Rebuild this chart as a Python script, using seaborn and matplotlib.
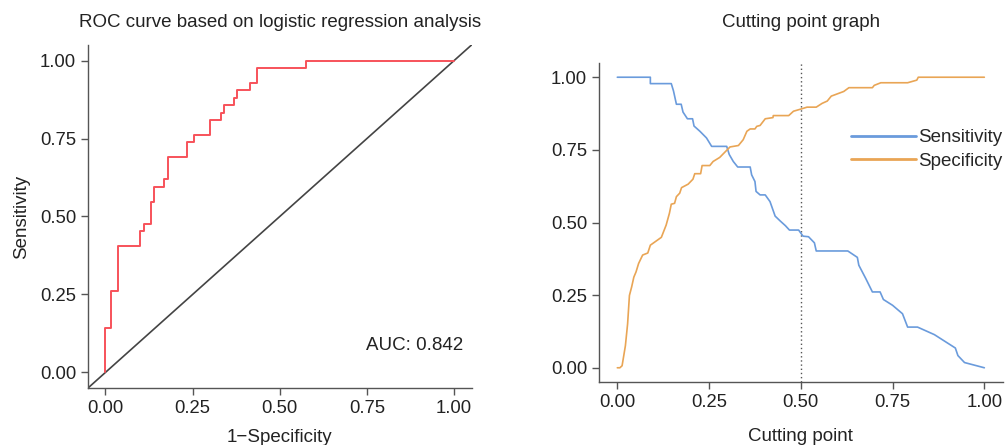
import numpy as np
import pandas as pd
import seaborn as sns
import matplotlib.pyplot as plt

sns.set_style("ticks")
plt.rcParams["font.family"] = ["Liberation Sans", "DejaVu Sans"]
plt.rcParams["font.size"] = 13.5
plt.rcParams["axes.titlesize"] = 13.5
plt.rcParams["axes.labelsize"] = 13.5
plt.rcParams["xtick.labelsize"] = 13.3
plt.rcParams["ytick.labelsize"] = 13.3
plt.rcParams["legend.fontsize"] = 13.5

# ============================================
# DATA
# ============================================
# ROC curve vertices (step curve)
fpr = [0, 0, 0.017, 0.036, 0.100, 0.111, 0.130, 0.140, 0.169, 0.178, 0.235,
       0.255, 0.300, 0.330, 0.339, 0.368, 0.376, 0.415, 0.434, 0.575, 1.0]
tpr_counts = [0, 6, 11, 17, 19, 20, 23, 25, 26, 29, 31,
              32, 34, 35, 36, 37, 38, 39, 41, 42, 42]
n_pos = 42
auc_label = "AUC: 0.842"

# Cutting point graph
cp_sens = [0, 0.09, 0.09, 0.147, 0.153, 0.161, 0.174, 0.179, 0.191, 0.205,
           0.209, 0.225, 0.243, 0.257, 0.298, 0.305, 0.316, 0.328, 0.362, 0.366,
           0.375, 0.378, 0.389, 0.403, 0.416, 0.430, 0.444, 0.458, 0.469, 0.494,
           0.506, 0.521, 0.537, 0.542, 0.628, 0.654, 0.658, 0.677, 0.695, 0.716,
           0.725, 0.750, 0.777, 0.791, 0.818, 0.864, 0.921, 0.928, 0.946, 1.0]
sens = [1.0, 1.0, 0.978, 0.978, 0.953, 0.907, 0.907, 0.880, 0.857, 0.857,
        0.832, 0.814, 0.791, 0.762, 0.762, 0.734, 0.710, 0.691, 0.691, 0.664,
        0.641, 0.607, 0.595, 0.595, 0.572, 0.522, 0.505, 0.489, 0.474, 0.474,
        0.453, 0.451, 0.430, 0.402, 0.402, 0.380, 0.353, 0.307, 0.261, 0.261,
        0.235, 0.215, 0.186, 0.140, 0.140, 0.114, 0.068, 0.042, 0.018, 0.0]

cp_spec = [0, 0.007, 0.013, 0.022, 0.028, 0.033, 0.039, 0.045, 0.051, 0.058,
           0.069, 0.083, 0.090, 0.120, 0.133, 0.142, 0.147, 0.156, 0.161, 0.170,
           0.175, 0.193, 0.206, 0.211, 0.227, 0.231, 0.252, 0.261, 0.279, 0.307,
           0.330, 0.343, 0.353, 0.362, 0.375, 0.380, 0.389, 0.403, 0.424, 0.425,
           0.467, 0.480, 0.499, 0.517, 0.542, 0.558, 0.572, 0.583, 0.617, 0.631,
           0.695, 0.700, 0.718, 0.791, 0.816, 0.820, 1.0]
spec = [0, 0, 0.007, 0.076, 0.151, 0.249, 0.278, 0.312, 0.330, 0.359,
        0.388, 0.395, 0.422, 0.449, 0.491, 0.532, 0.563, 0.566, 0.589, 0.601,
        0.620, 0.632, 0.649, 0.668, 0.668, 0.696, 0.696, 0.710, 0.724, 0.760,
        0.765, 0.785, 0.814, 0.822, 0.822, 0.831, 0.834, 0.857, 0.861, 0.868,
        0.868, 0.883, 0.890, 0.897, 0.897, 0.910, 0.918, 0.935, 0.951, 0.964,
        0.964, 0.972, 0.981, 0.981, 0.990, 1.0, 1.0]
cutoff = 0.5

ticks = [0, 0.25, 0.5, 0.75, 1.0]
tick_labels = ["0.00", "0.25", "0.50", "0.75", "1.00"]

# ============================================
# FIGURE
# ============================================
fig = plt.figure(figsize=(10.06, 4.45), dpi=100)
ax1 = fig.add_axes([0.0875, 0.1281, 0.3812, 0.7708])
ax2 = fig.add_axes([0.5954, 0.1409, 0.4013, 0.7182])

spine_col = "#555555"
for ax in (ax1, ax2):
    sns.despine(ax=ax)
    for s in ("left", "bottom"):
        ax.spines[s].set_color(spine_col)
        ax.spines[s].set_linewidth(1.0)
    ax.tick_params(color=spine_col, labelcolor="#222222", length=5, width=1.0)
    ax.set_xlim(-0.05, 1.05)
    ax.set_ylim(-0.05, 1.05)
    ax.set_xticks(ticks)
    ax.set_xticklabels(tick_labels)
    ax.set_yticks(ticks)
    ax.set_yticklabels(tick_labels)

# ---- ROC curve ----
roc_df = pd.DataFrame({"fpr": fpr, "tpr": np.array(tpr_counts) / n_pos})
ax1.axline((0, 0), (1, 1), color="#444444", lw=1.2)
sns.lineplot(data=roc_df, x="fpr", y="tpr", ax=ax1, estimator=None, sort=False,
             drawstyle="steps-post", color="#F7525A", lw=1.4)
ax1.text(1.025, 0.087, auc_label, ha="right", va="center", color="#222222")
ax1.set_title("ROC curve based on logistic regression analysis", pad=13, color="#222222")
ax1.set_xlabel("1\u2212Specificity", color="#222222", labelpad=9)
ax1.set_ylabel("Sensitivity", color="#222222", labelpad=7)

# ---- Cutting point graph ----
cut_df = pd.concat([
    pd.DataFrame({"cp": cp_sens, "value": sens, "metric": "Sensitivity"}),
    pd.DataFrame({"cp": cp_spec, "value": spec, "metric": "Specificity"}),
], ignore_index=True)
ax2.axvline(cutoff, color="#555555", ls=(0, (1, 2)), lw=1.0)
sns.lineplot(data=cut_df, x="cp", y="value", hue="metric", ax=ax2,
             estimator=None, sort=False, lw=1.2,
             palette={"Sensitivity": "#6A9BDC", "Specificity": "#E9A555"})
ax2.set_title("Cutting point graph", pad=26, color="#222222")
ax2.set_xlabel("Cutting point", color="#222222", labelpad=12)
ax2.set_ylabel("")
ax2.get_legend().remove()
handles, labels = ax2.get_legend_handles_labels()
for h in handles:
    h.set_linewidth(2)
fig.legend(handles, labels, loc="upper left", bbox_to_anchor=(0.846, 0.710),
           frameon=False, handlelength=3.47, handletextpad=0.1,
           borderpad=0, borderaxespad=0, labelspacing=0.36)

plt.savefig("out.png", dpi=100)
plt.close()
